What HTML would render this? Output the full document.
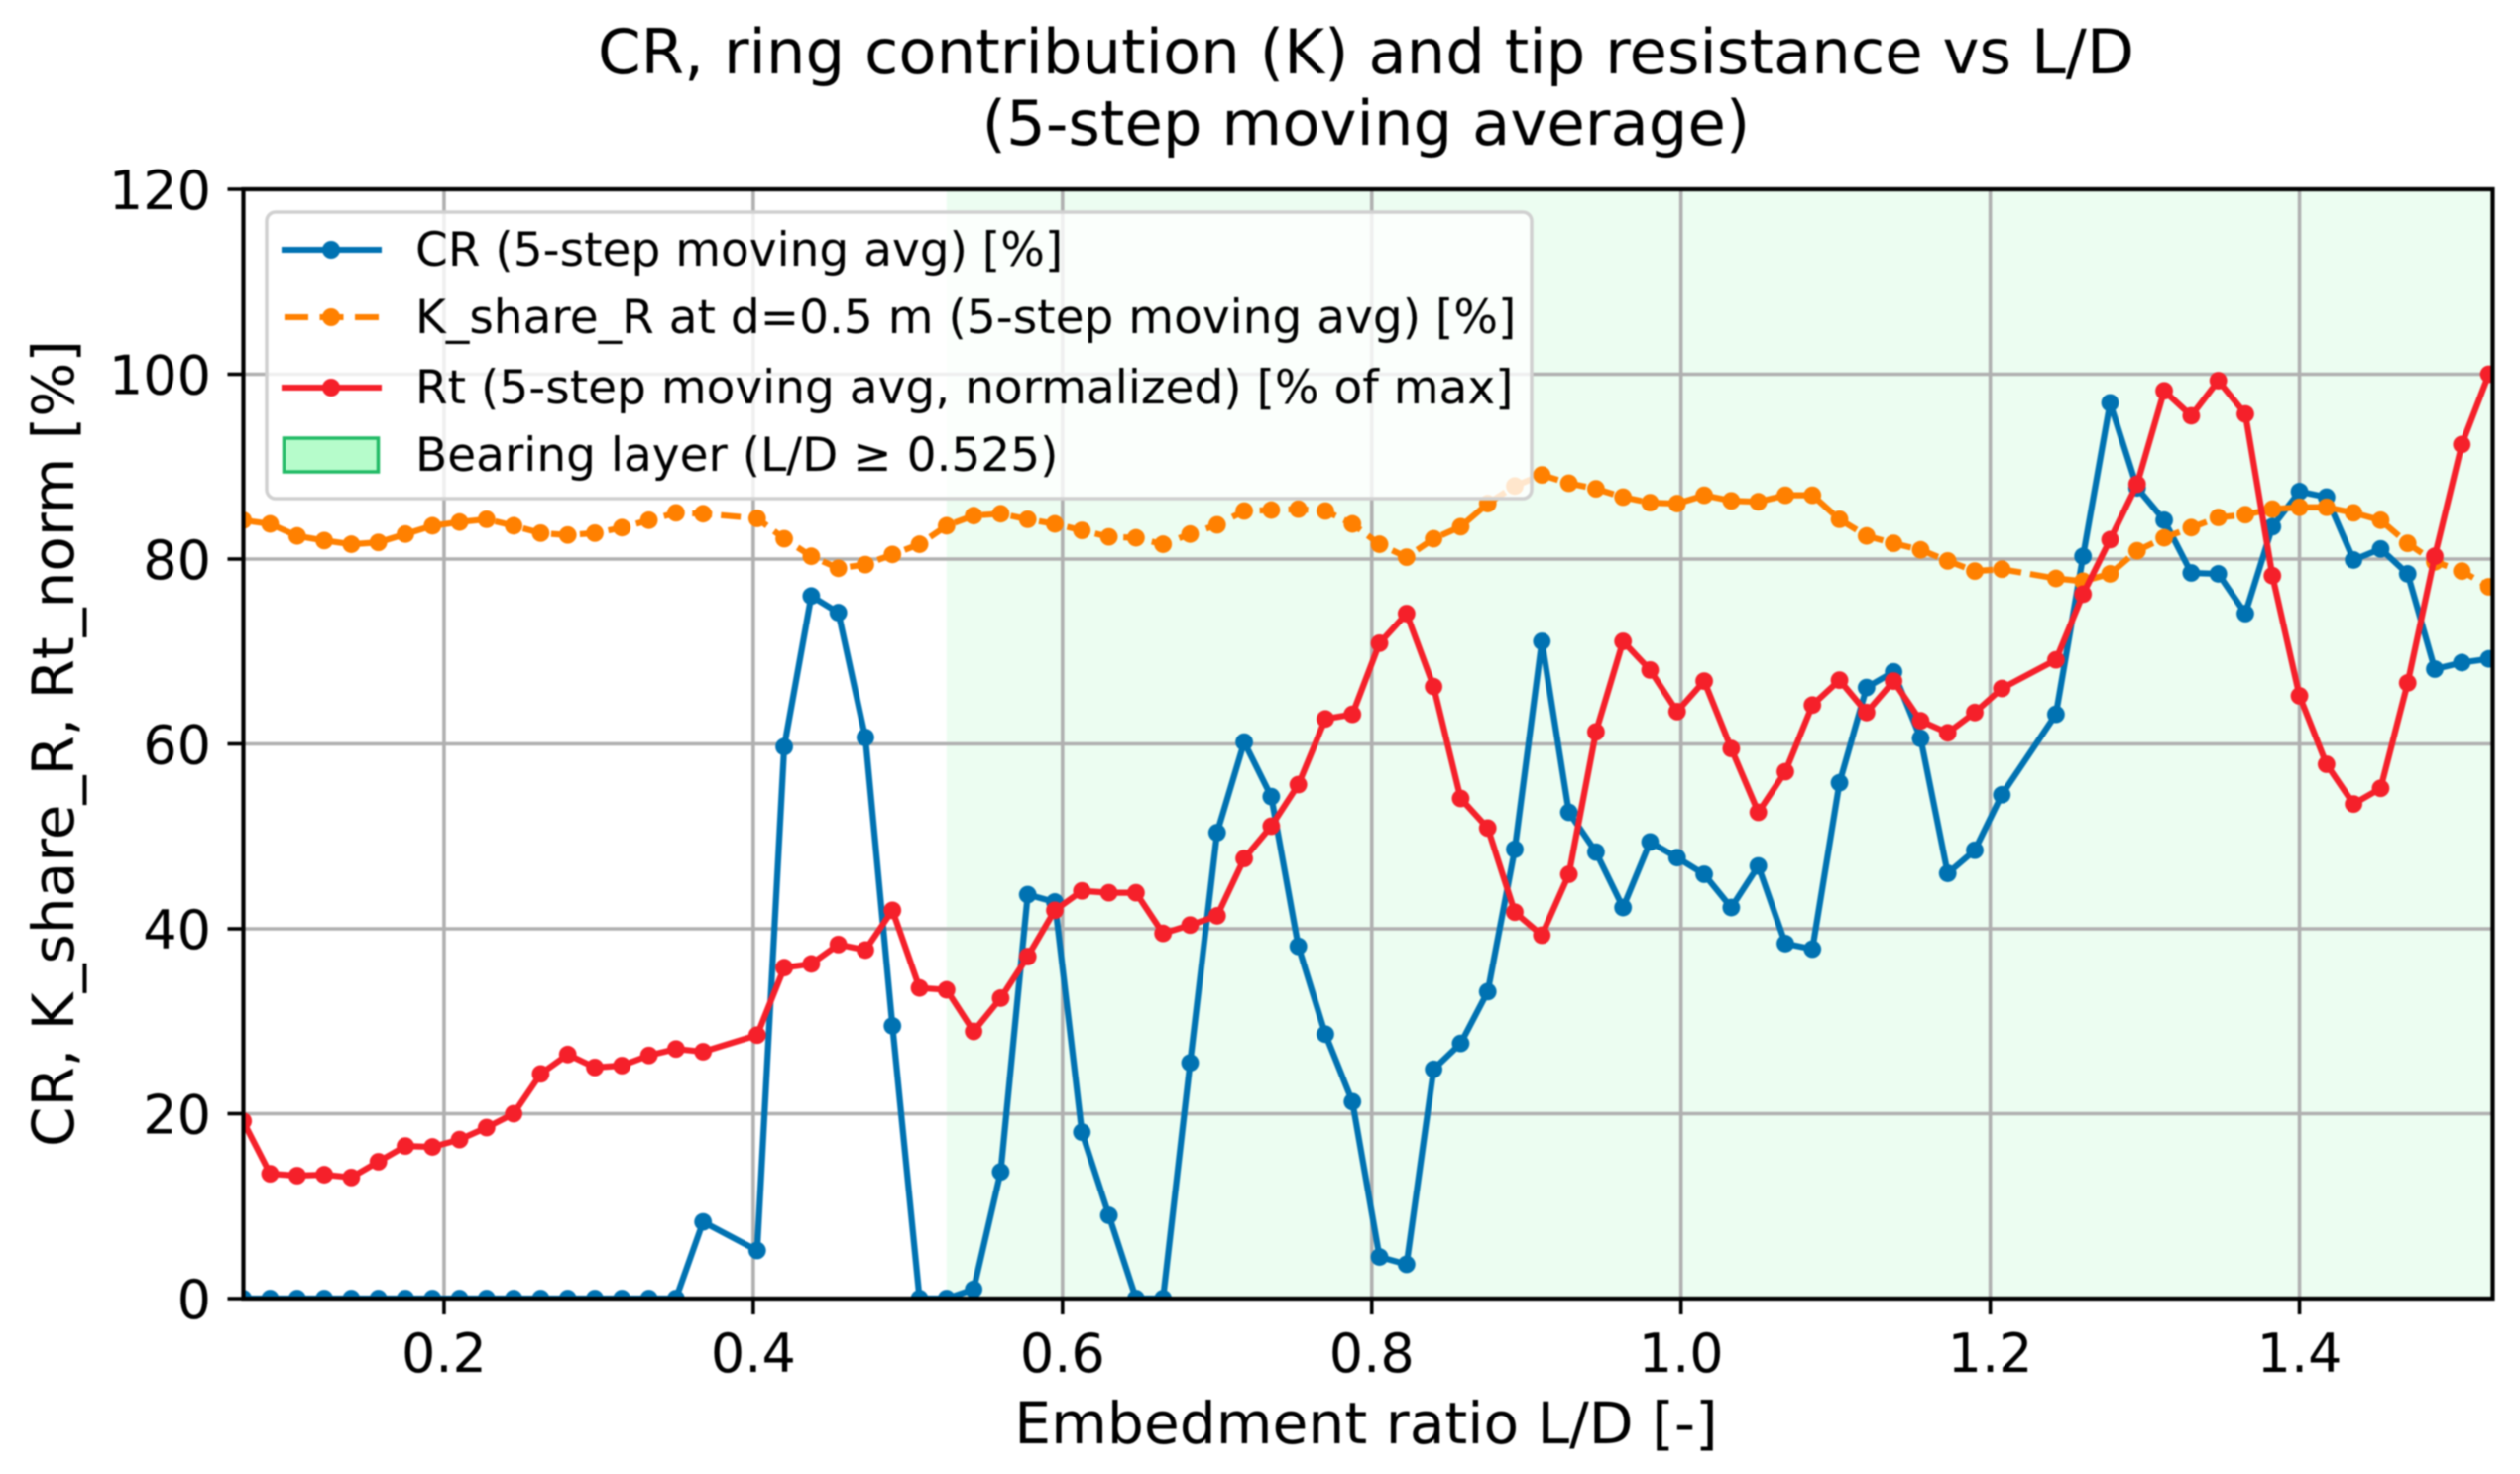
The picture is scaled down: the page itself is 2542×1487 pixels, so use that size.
<!DOCTYPE html>
<html lang="en">
<head>
<meta charset="utf-8">
<title>CR, ring contribution (K) and tip resistance vs L/D</title>
<style>
html,body{margin:0;padding:0;background:#fff;width:2542px;height:1487px;overflow:hidden}
svg{display:block;filter:blur(0.7px)}
text{font-family:"DejaVu Sans","Liberation Sans",sans-serif;fill:#000}
</style>
</head>
<body>
<svg id="chart" xmlns="http://www.w3.org/2000/svg" width="2542" height="1487" viewBox="0 0 2542 1487">
  <defs><clipPath id="plot-clip"><rect x="245.5" y="191" width="2269" height="1119"/></clipPath></defs>
  <rect x="0" y="0" width="2542" height="1487" fill="#fff"/>
  <g id="plot-under"></g>
  <g id="grid"></g>
  <g id="series" clip-path="url(#plot-clip)"></g>
  <g id="axes"></g>
  <text x="1378" y="74" font-size="62.5" text-anchor="middle">CR, ring contribution (K) and tip resistance vs L/D</text>
  <text x="1378" y="146" font-size="62.5" text-anchor="middle">(5-step moving average)</text>
  <text x="1378" y="1456" font-size="58.3" text-anchor="middle">Embedment ratio L/D [-]</text>
  <text transform="translate(74,750) rotate(-90)" font-size="58" text-anchor="middle">CR, K_share_R, Rt_norm [%]</text>
  <g>
    <rect x="269" y="214" width="1276" height="289" rx="9" fill="#fff" fill-opacity="0.8" stroke="#d0d0d0" stroke-width="3.5"/>
    <g>
      <line x1="284" x2="385" y1="252" y2="252" stroke="#0072B2" stroke-width="6"/>
      <circle cx="334" cy="252" r="9" fill="#0072B2"/>
      <text x="419" y="268" font-size="47">CR (5-step moving avg) [%]</text>
    </g>
    <g>
      <line x1="287" x2="382" y1="320" y2="320" stroke="#FF8000" stroke-width="6" stroke-dasharray="24 11.5"/>
      <circle cx="334" cy="320" r="9" fill="#FF8000"/>
      <text x="419" y="336" font-size="47">K_share_R at d=0.5 m (5-step moving avg) [%]</text>
    </g>
    <g>
      <line x1="284" x2="385" y1="391" y2="391" stroke="#F5202A" stroke-width="6"/>
      <circle cx="334" cy="391" r="9" fill="#F5202A"/>
      <text x="419" y="407" font-size="47">Rt (5-step moving avg, normalized) [% of max]</text>
    </g>
    <g>
      <rect x="286.5" y="442" width="95" height="34" fill="#B6FCCB" stroke="#22BB66" stroke-width="3.5"/>
      <text x="419" y="475" font-size="47">Bearing layer (L/D ≥ 0.525)</text>
    </g>
  </g>
</svg>
<script>
const ldRatio = [0.07,0.0875,0.105,0.1225,0.14,0.1575,0.175,0.1925,0.21,0.2275,0.245,0.2625,0.28,0.2975,0.315,0.3325,0.35,0.3675,0.4025,0.42,0.4375,0.455,0.4725,0.49,0.5075,0.525,0.5425,0.56,0.5775,0.595,0.6125,0.63,0.6475,0.665,0.6825,0.7,0.7175,0.735,0.7525,0.77,0.7875,0.805,0.8225,0.84,0.8575,0.875,0.8925,0.91,0.9275,0.945,0.9625,0.98,0.9975,1.015,1.0325,1.05,1.0675,1.085,1.1025,1.12,1.1375,1.155,1.1725,1.19,1.2075,1.2425,1.26,1.2775,1.295,1.3125,1.33,1.3475,1.365,1.3825,1.4,1.4175,1.435,1.4525,1.47,1.4875,1.505,1.5225];
const crValues = [0,0,0,0,0,0,0,0,0,0,0,0,0,0,0,0,0,8.3,5.2,59.7,76,74.2,60.7,29.5,0,0,1,13.7,43.7,42.9,18,9,0,0,25.5,50.4,60.2,54.3,38.1,28.6,21.3,4.5,3.7,24.8,27.6,33.2,48.6,71.1,52.6,48.3,42.3,49.4,47.7,45.9,42.3,46.8,38.4,37.8,55.8,66.1,67.8,60.6,46,48.5,54.5,63.2,80.3,96.9,87.7,84.2,78.5,78.4,74.1,83.5,87.3,86.7,79.9,81.1,78.4,68.1,68.8,69.2];
const kShareValues = [84.2,83.8,82.5,82,81.6,81.8,82.7,83.6,84,84.3,83.6,82.8,82.6,82.8,83.4,84.2,85,84.9,84.4,82.2,80.3,79,79.4,80.5,81.6,83.6,84.7,84.9,84.3,83.8,83.1,82.4,82.3,81.6,82.7,83.7,85.2,85.3,85.4,85.2,83.8,81.6,80.2,82.2,83.5,86,87.9,89.1,88.2,87.6,86.7,86.1,86,86.9,86.3,86.2,86.9,86.9,84.3,82.5,81.7,81,79.8,78.7,78.9,77.9,77.6,78.4,80.9,82.3,83.4,84.5,84.8,85.4,85.6,85.6,85,84.2,81.7,79.7,78.7,77];
const rtValues = [19.2,13.5,13.3,13.4,13.1,14.8,16.5,16.4,17.2,18.5,20,24.3,26.4,25,25.2,26.3,27,26.7,28.5,35.8,36.2,38.3,37.7,42,33.6,33.4,28.9,32.5,37,42,44.1,43.9,43.9,39.5,40.4,41.4,47.6,51.1,55.6,62.7,63.2,70.9,74.1,66.2,54.1,50.9,41.8,39.3,45.9,61.3,71.1,68,63.5,66.8,59.5,52.6,57,64.2,66.9,63.4,66.8,62.5,61.2,63.4,66,69.1,76.2,82.1,88.1,98.2,95.5,99.3,95.7,78.2,65.2,57.8,53.5,55.2,66.6,80.3,92.4,100];
const xTickLabels = ["0.2","0.4","0.6","0.8","1.0","1.2","1.4"];
const yTickLabels = ["0","20","40","60","80","100","120"];
const bearingLayerStart = [0.525];

const SVG_NS = "http://www.w3.org/2000/svg";
const plotLeft = 245.5, plotRight = 2514.5, plotTop = 191, plotBottom = 1310;
const xMin = 0.0702, xMax = 1.525, yMin = 0, yMax = 120;
function xScale(v){ return plotLeft + (v - xMin) / (xMax - xMin) * (plotRight - plotLeft); }
function yScale(v){ return plotBottom - (v - yMin) / (yMax - yMin) * (plotBottom - plotTop); }
function make(tag, attrs, parent){
  const el = document.createElementNS(SVG_NS, tag);
  for (const k in attrs) el.setAttribute(k, attrs[k]);
  parent.appendChild(el);
  return el;
}
const under = document.getElementById("plot-under");
const grid = document.getElementById("grid");
const seriesLayer = document.getElementById("series");
const axes = document.getElementById("axes");

const span = make("rect", {x: xScale(bearingLayerStart[0]), y: plotTop, width: plotRight - xScale(bearingLayerStart[0]), height: plotBottom - plotTop, fill: "#ECFDF1"}, under);



xTickLabels.forEach(function(label){
  const px = xScale(parseFloat(label));
  const g = make("line", {x1: px, x2: px, y1: plotTop, y2: plotBottom, stroke: "#B0B0B0", "stroke-width": 3.6}, grid);
  
  
  const t = make("line", {x1: px, x2: px, y1: plotBottom, y2: plotBottom + 16, stroke: "#000", "stroke-width": 3.6}, axes);
  
  
  const txt = make("text", {x: px, y: 1384, "font-size": 54, "text-anchor": "middle"}, axes);
  
  
  txt.textContent = label;
});
yTickLabels.forEach(function(label){
  const py = yScale(parseFloat(label));
  const g = make("line", {x1: plotLeft, x2: plotRight, y1: py, y2: py, stroke: "#B0B0B0", "stroke-width": 3.6}, grid);
  
  
  const t = make("line", {x1: plotLeft - 16, x2: plotLeft, y1: py, y2: py, stroke: "#000", "stroke-width": 3.6}, axes);
  
  
  const txt = make("text", {x: 213, y: py + 20, "font-size": 54, "text-anchor": "end"}, axes);
  
  
  txt.textContent = label;
});
const frame = make("rect", {x: plotLeft, y: plotTop, width: plotRight - plotLeft, height: plotBottom - plotTop, fill: "none", stroke: "#000", "stroke-width": 4.2}, axes);



function drawSeries(values, color, dash, groupEl){
  const pts = values.map(function(v, i){ return xScale(ldRatio[i]) + "," + yScale(v); }).join(" ");
  const attrs = {points: pts, fill: "none", stroke: color, "stroke-width": 6.2, "stroke-linejoin": "round"};
  if (dash) attrs["stroke-dasharray"] = dash;
  const line = make("polyline", attrs, groupEl);
  
  
  values.forEach(function(v, i){
    const c = make("circle", {cx: xScale(ldRatio[i]), cy: yScale(v), r: 8.9, fill: color}, groupEl);
    
    
  });
}
const crGroup = make("g", {}, seriesLayer);


drawSeries(crValues, "#0072B2", null, crGroup);
const kGroup = make("g", {}, seriesLayer);


drawSeries(kShareValues, "#FF8000", "20 9", kGroup);
const rtGroup = make("g", {}, seriesLayer);


drawSeries(rtValues, "#F5202A", null, rtGroup);
</script>
</body>
</html>
